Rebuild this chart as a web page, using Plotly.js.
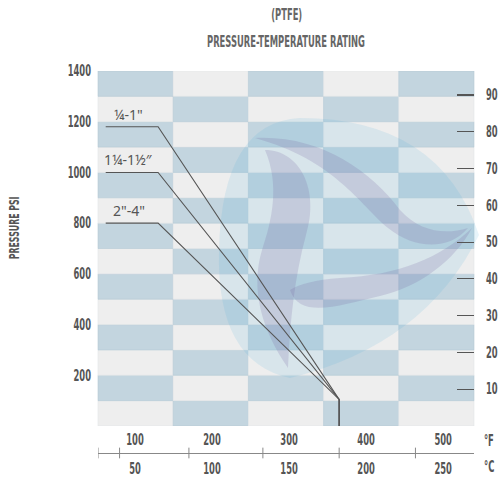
<!DOCTYPE html>
<html>
<head>
<meta charset="utf-8">
<script src="https://cdn.plot.ly/plotly-3.0.1.min.js"></script>
<style>html,body{margin:0;padding:0;background:#fff;}#chart{width:500px;height:483px;}</style>
</head>
<body>
<div id="chart"></div>
<script>
// ---- data ----
const tempFTicks = [100, 200, 300, 400, 500];
const tempCTicks = [50, 100, 150, 200, 250];
const psiTicks = [200, 400, 600, 800, 1000, 1200, 1400];
const barTicks = [10, 20, 30, 40, 50, 60, 70, 80, 90];
const sizeLabels = ['¼-1"', '1¼-1½″', '2"-4"'];
const startPsi = [1180, 1000, 800];
const labelStartF = 62;
const kneeF = 130;
const limitF = 365;
const limitPsi = 105;
const scaleTickF = [52, 80, 170, 266, 365, 464];
const PSI_PER_BAR = 14.5038;

// ---- layout helpers ----
const W = 500, H = 483;
const L = 98, R = 474, T = 71, B = 453, PLOT_BOTTOM = 426;
const px = x => (x - L) / (R - L);
const py = y => (B - y) / (B - T);
const xRange = [52, 540];
const yRange = [0, 1400];
const nCols = 5, rowStep = 100;

const condensed = 'DejaVu Sans, sans-serif';
const tickFont = {family: condensed, size: 15, color: '#555', weight: 'bold'};
const lineColor = '#555';

const traces = sizeLabels.map((name, i) => ({
  type: 'scatter', mode: 'lines', name: name,
  x: [labelStartF, kneeF, limitF, limitF],
  y: [startPsi[i], startPsi[i], limitPsi, 0],
  line: {color: lineColor, width: 1.1},
  hoverinfo: 'skip', showlegend: false
}));
// keeps the °C and bar axes drawn
traces.push({type: 'scatter', mode: 'markers', x: [tempCTicks[0]], y: [barTicks[0]],
  xaxis: 'x2', yaxis: 'y2', marker: {opacity: 0}, hoverinfo: 'skip', showlegend: false});

const shapes = [];
const nRows = (yRange[1] - yRange[0]) / rowStep;
for (let k = 0; k < nRows; k++) {
  const rt = nRows - 1 - k;
  for (let c = 0; c < nCols; c++) {
    const blue = (rt + c) % 2 === 0;
    shapes.push({
      type: 'rect', layer: 'below', xref: 'paper', yref: 'y',
      x0: c / nCols, x1: (c + 1) / nCols,
      y0: k * rowStep, y1: (k + 1) * rowStep,
      fillcolor: blue ? '#c3d5df' : '#eeeeee',
      line: {width: 0.6, color: blue ? '#b6cad5' : '#e2e6e8'}
    });
  }
}
// watermark
function pathFrom(pts) {
  return pts.map(p => {
    if (p[0] === 'Z') return 'Z';
    let s = p[0];
    for (let i = 1; i < p.length; i += 2) s += ' ' + px(p[i]).toFixed(4) + ',' + py(p[i + 1]).toFixed(4);
    return s;
  }).join(' ');
}
const badge = [['M', 300, 118], ['Q', 440, 118, 479, 235], ['Q', 425, 345, 290, 378],
  ['Q', 216, 362, 219, 250], ['Q', 222, 122, 300, 118], ['Z']];
shapes.push({type: 'path', layer: 'below', xref: 'paper', yref: 'paper', path: pathFrom(badge),
  fillcolor: 'rgba(70,170,215,0.13)', line: {width: 0}});
const blades = [
  [['M', 265, 150], ['C', 300, 150, 320, 190, 306, 235], ['C', 295, 275, 290, 320, 288, 368],
   ['C', 262, 330, 250, 290, 262, 250], ['C', 272, 220, 280, 185, 265, 150], ['Z']],
  [['M', 255, 138], ['C', 320, 135, 370, 170, 400, 210], ['C', 420, 232, 445, 235, 468, 228],
   ['C', 450, 250, 415, 250, 388, 228], ['C', 360, 205, 335, 160, 255, 138], ['Z']],
  [['M', 472, 228], ['C', 440, 258, 400, 275, 340, 278], ['C', 315, 280, 300, 284, 290, 290],
   ['C', 300, 320, 340, 305, 380, 296], ['C', 420, 287, 455, 260, 472, 228], ['Z']]
];
blades.forEach(b => shapes.push({type: 'path', layer: 'below', xref: 'paper', yref: 'paper',
  path: pathFrom(b), fillcolor: 'rgba(120,100,160,0.2)', line: {width: 0}}));
// crossing ticks on the temperature scale line
scaleTickF.forEach(v => shapes.push({type: 'line', xref: 'x', yref: 'paper',
  x0: v, x1: v, y0: -0.014, y1: 0.014, line: {color: '#888', width: 1}}));

const annotations = sizeLabels.map((t, i) => ({
  text: t, xref: 'x', yref: 'y', x: 92, y: startPsi[i], xanchor: 'center', yanchor: 'bottom',
  yshift: 1, showarrow: false, font: {family: 'Noto Sans, sans-serif', size: 14, color: '#555'}
}));
annotations.push({text: '(PTFE)', xref: 'paper', yref: 'paper', x: 0.5, y: py(15), yanchor: 'middle',
  showarrow: false, font: {family: condensed, size: 15, color: '#666', weight: 'bold'}});
annotations.push({text: 'PRESSURE PSI', xref: 'paper', yref: 'paper', x: px(14), y: py(228), textangle: -90,
  xanchor: 'center', yanchor: 'middle', showarrow: false,
  font: {family: condensed, size: 14, color: '#555', weight: 'bold'}});
annotations.push({text: '°F', xref: 'paper', yref: 'paper', x: px(489), y: py(441), xanchor: 'center', yanchor: 'middle',
  showarrow: false, font: tickFont});
annotations.push({text: '°C', xref: 'paper', yref: 'paper', x: px(489), y: py(467), xanchor: 'center', yanchor: 'middle',
  showarrow: false, font: tickFont});

const layout = {
  width: W, height: H,
  margin: {l: L, r: W - R, t: T, b: H - B, pad: 0},
  paper_bgcolor: '#fff', plot_bgcolor: '#fff',
  title: {text: 'PRESSURE-TEMPERATURE RATING', x: 0.5, xref: 'paper', y: 1 - 42 / H, yref: 'container',
    yanchor: 'middle', font: {family: condensed, size: 15, color: '#666', weight: 'bold'}},
  showlegend: false,
  xaxis: {range: xRange, tickvals: tempFTicks, ticktext: tempFTicks.map(String), showgrid: false, zeroline: false,
    ticks: '', showline: false, tickfont: tickFont, anchor: 'y', fixedrange: true, ticklabelstandoff: 3},
  xaxis2: {range: xRange.map(v => v / 2), tickvals: tempCTicks, ticktext: tempCTicks.map(String), overlaying: 'x',
    anchor: 'free', position: 0, side: 'bottom', showgrid: false, zeroline: false, ticks: '',
    showline: true, linecolor: '#888', linewidth: 1.2, tickfont: tickFont, ticklabelstandoff: 2},
  yaxis: {range: yRange, domain: [py(PLOT_BOTTOM), 1], tickvals: psiTicks, ticktext: psiTicks.map(String),
    showgrid: false, zeroline: false, ticks: '', showline: false, tickfont: tickFont, ticklabelstandoff: 6},
  yaxis2: {range: yRange.map(v => v / PSI_PER_BAR), overlaying: 'y', side: 'right', anchor: 'x',
    tickvals: barTicks, ticktext: barTicks.map(String), showgrid: false, zeroline: false,
    ticks: 'inside', ticklen: 17, tickwidth: 1.2, tickcolor: '#555', showline: false,
    tickfont: tickFont, ticklabelstandoff: 11},
  shapes: shapes,
  annotations: annotations
};

const SQUEEZE = 0.56;
Plotly.newPlot('chart', traces, layout, {displayModeBar: false, staticPlot: true}).then(gd => {
  // narrow, poster-style lettering: smaller glyphs stretched back to full height about the baseline
  gd.querySelectorAll('text').forEach(t => {
    const fam = (t.style.fontFamily || '');
    if (fam.indexOf('DejaVu') === -1) return;
    const fs = parseFloat(t.style.fontSize);
    if (!fs) return;
    const yAttr = parseFloat(t.getAttribute('y')) || 0;
    const existing = t.getAttribute('transform') || '';
    t.style.fontSize = (fs * SQUEEZE).toFixed(2) + 'px';
    t.setAttribute('transform', existing + ' translate(0,' + yAttr + ') scale(1,' + (1 / SQUEEZE).toFixed(4) + ') translate(0,' + (-yAttr) + ')');
  });
});
</script>
</body>
</html>
